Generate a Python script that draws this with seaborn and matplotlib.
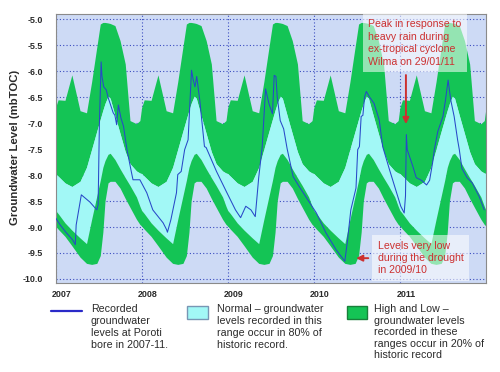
import numpy as np
import pandas as pd
import matplotlib
matplotlib.use("Agg")
import matplotlib.pyplot as plt
import matplotlib.transforms as mtransforms
from matplotlib.lines import Line2D
from matplotlib.patches import Rectangle
import seaborn as sns

# ---------------- data ----------------
years = [2007, 2008, 2009, 2010, 2011]
# fraction of year at which the historic envelope is read
season_frac = [0.0, 0.03, 0.11, 0.19, 0.285, 0.36, 0.42, 0.48, 0.52, 0.55,
               0.575, 0.61, 0.635, 0.69, 0.75, 0.81, 0.865, 0.94, 0.98]
hist_max = [-6.70, -6.55, -6.56, -6.07, -6.76, -6.80, -6.20, -5.53, -5.09, -5.06,
            -5.06, -5.07, -5.08, -5.12, -5.41, -5.86, -6.95, -7.01, -6.95]
hist_p90 = [-7.97, -8.02, -8.15, -8.22, -8.12, -7.85, -7.50, -7.15, -6.92, -6.75,
            -6.62, -6.48, -6.52, -6.85, -7.20, -7.55, -7.78, -7.92, -7.96]
hist_p10 = [-8.68, -8.74, -8.92, -9.06, -9.21, -9.32, -8.85, -8.40, -8.10, -7.85,
            -7.72, -7.60, -7.58, -7.70, -7.88, -8.05, -8.20, -8.42, -8.60]
hist_min = [-8.98, -9.04, -9.18, -9.36, -9.58, -9.70, -9.72, -9.70, -9.55, -9.10,
            -8.50, -8.15, -8.12, -8.12, -8.25, -8.45, -8.62, -8.85, -8.95]

rec_x = [2007.00, 2007.05, 2007.12, 2007.20, 2007.23, 2007.24, 2007.30, 2007.40, 2007.48, 2007.495,
         2007.51, 2007.53, 2007.54, 2007.56, 2007.59, 2007.61, 2007.64, 2007.67, 2007.69, 2007.71,
         2007.73, 2007.76, 2007.79, 2007.83, 2007.88, 2007.90, 2007.98, 2008.06, 2008.13, 2008.25,
         2008.29, 2008.30, 2008.34, 2008.405, 2008.42, 2008.46, 2008.50, 2008.54, 2008.58, 2008.60,
         2008.62, 2008.64, 2008.675, 2008.695, 2008.73, 2008.75, 2008.87, 2008.985, 2009.09, 2009.15,
         2009.21, 2009.27, 2009.32, 2009.36, 2009.40, 2009.44, 2009.48, 2009.52, 2009.54, 2009.56,
         2009.575, 2009.61, 2009.65, 2009.69, 2009.76, 2009.83, 2010.03, 2010.14, 2010.26, 2010.36,
         2010.39, 2010.43, 2010.49, 2010.51, 2010.53, 2010.55, 2010.57, 2010.59, 2010.61, 2010.645,
         2010.70, 2010.76, 2010.80, 2010.88, 2011.01, 2011.05, 2011.065, 2011.075, 2011.085, 2011.15,
         2011.19, 2011.25, 2011.31, 2011.345, 2011.38, 2011.40, 2011.44, 2011.50, 2011.53, 2011.56,
         2011.59, 2011.63, 2011.67, 2011.69, 2011.72, 2011.78, 2011.84, 2011.92, 2011.98]
rec_y = [-8.82, -8.95, -9.10, -9.25, -9.34, -8.96, -8.38, -8.52, -8.67, -8.57,
         -7.00, -5.82, -6.10, -6.30, -6.36, -6.50, -6.65, -6.80, -6.85, -7.03,
         -6.65, -6.90, -7.06, -7.51, -7.93, -8.09, -8.09, -8.34, -8.67, -8.92,
         -9.05, -9.10, -8.86, -8.34, -7.99, -7.93, -7.51, -7.32, -5.98, -6.17,
         -6.30, -6.10, -6.55, -6.88, -7.45, -7.47, -7.93, -8.32, -8.67, -8.82,
         -8.60, -8.67, -8.80, -8.05, -7.47, -6.34, -6.63, -6.82, -6.08, -6.10,
         -6.49, -6.95, -7.11, -7.49, -8.03, -8.22, -8.73, -9.11, -9.44, -9.66,
         -9.28, -8.67, -8.25, -7.51, -7.45, -6.87, -6.85, -6.49, -6.39, -6.49,
         -6.62, -6.94, -7.45, -7.90, -8.60, -8.73, -8.40, -7.22, -7.51, -7.83,
         -8.05, -8.10, -8.19, -8.10, -7.76, -7.51, -7.16, -6.87, -6.55, -6.17,
         -6.55, -6.87, -7.32, -7.51, -7.87, -8.05, -8.15, -8.41, -8.67]

y_ticks = [-10.0, -9.5, -9.0, -8.5, -8.0, -7.5, -7.0, -6.5, -6.0, -5.5, -5.0]
x_ticks = [2007, 2008, 2009, 2010, 2011]

note_peak = "Peak in response to\nheavy rain during\nex-tropical cyclone\nWilma on 29/01/11"
note_low = "Levels very low\nduring the drought\nin 2009/10"
leg_line = "Recorded\ngroundwater\nlevels at Poroti\nbore in 2007-11."
leg_norm = "Normal \u2013 groundwater\nlevels recorded in this\nrange occur in 80% of\nhistoric record."
leg_high = "High and Low \u2013\ngroundwater levels\nrecorded in these\nranges occur in 20% of\nhistoric record"

# ---------------- style ----------------
sns.set_theme(style="white")
plt.rcParams['font.family'] = ['Liberation Sans', 'DejaVu Sans']

GREEN = "#14c455"
CYAN = "#a2f8f6"
BG = "#cddaf5"
BLUE = "#2848c8"
RED = "#cc3030"
TXT = "#2a2a2a"

# envelope tiled for each year
env_x = np.concatenate([np.array(season_frac) + y for y in years] + [[years[-1] + 1]])
def tile(v):
    return np.concatenate([np.array(v) for _ in years] + [[v[0]]])
e_max, e_p90, e_p10, e_min = tile(hist_max), tile(hist_p90), tile(hist_p10), tile(hist_min)

fig = plt.figure(figsize=(5.0, 3.72), dpi=100)
ax = fig.add_axes([0.111, 0.239, 0.861, 0.723])
ax.set_facecolor(BG)

ax.fill_between(env_x, e_p90, e_max, color=GREEN, lw=0, zorder=1)
ax.fill_between(env_x, e_p10, e_p90, color=CYAN, lw=0, zorder=1)
ax.fill_between(env_x, e_min, e_p10, color=GREEN, lw=0, zorder=1)

df = pd.DataFrame({"year": rec_x, "level": rec_y})
sns.lineplot(data=df, x="year", y="level", ax=ax, color=BLUE, lw=0.75, zorder=3,
             sort=False, estimator=None)

ax.set_xlim(2007, 2012)
ax.set_ylim(-10.08, -4.9)
ax.set_yticks(y_ticks)
ax.set_yticklabels([f"{v:.1f}" for v in y_ticks], fontsize=6.4, fontweight='bold', color=TXT)
ax.set_xticks(x_ticks)
ax.set_xticklabels([str(v) for v in x_ticks], fontsize=6.4, fontweight='bold', color=TXT)
ax.tick_params(axis='both', length=0)
ax.tick_params(axis='y', pad=9)
ax.tick_params(axis='x', pad=5)
off = mtransforms.ScaledTranslation(6 / 100, 0, fig.dpi_scale_trans)
for lab in ax.get_xticklabels():
    lab.set_transform(lab.get_transform() + off)
ax.set_xlabel("")
ax.set_ylabel("")
ax.set_axisbelow(True)
ax.grid(True, color="#3a4cc0", linestyle=(0, (1, 2)), lw=0.8)
for s in ax.spines.values():
    s.set_color("#8a8a8a")
    s.set_linewidth(0.8)

fig.text(15.5 / 500, 1 - 147.5 / 372, "Groundwater Level (mbTOC)", rotation=90,
         ha='center', va='center', fontsize=8.2, fontweight='bold', color=TXT)

# annotations
box = dict(facecolor='white', alpha=0.55, edgecolor='none', boxstyle='square,pad=0.5')
ax.text(2010.63, -5.0, note_peak, color=RED, fontsize=7.6, va='top', ha='left',
        linespacing=1.3, bbox=box, zorder=5)
ax.annotate("", xy=(2011.07, -7.07), xytext=(2011.07, -6.02),
            arrowprops=dict(arrowstyle='-|>', color=RED, lw=1.4, mutation_scale=9), zorder=6)
ax.text(2010.74, -9.26, note_low, color=RED, fontsize=7.6, va='top', ha='left',
        linespacing=1.3, bbox=box, zorder=5)
ax.annotate("", xy=(2010.46, -9.6), xytext=(2010.665, -9.6),
            arrowprops=dict(arrowstyle='-|>', color=RED, lw=1.4, mutation_scale=9), zorder=6)

# legend
fy = lambda py: 1 - py / 372
fig.add_artist(Line2D([50.7 / 500, 82.3 / 500], [fy(310.7)] * 2, color="#2a2ac8", lw=1.6))
fig.text(90.7 / 500, fy(304), leg_line, fontsize=7.7, va='top', ha='left', color=TXT, linespacing=1.25)
fig.add_artist(Rectangle((187.3 / 500, fy(319.3)), 21 / 500, 13.6 / 372,
                         facecolor=CYAN, edgecolor="#7896b4", lw=1.0, transform=fig.transFigure))
fig.text(216.7 / 500, fy(304), leg_norm, fontsize=7.7, va='top', ha='left', color=TXT, linespacing=1.25)
fig.add_artist(Rectangle((346.7 / 500, fy(319.3)), 20 / 500, 13.6 / 372,
                         facecolor=GREEN, edgecolor="#18803a", lw=1.0, transform=fig.transFigure))
fig.text(374 / 500, fy(304), leg_high, fontsize=7.7, va='top', ha='left', color=TXT, linespacing=1.2)

fig.savefig("out.png", dpi=100, facecolor='white')
